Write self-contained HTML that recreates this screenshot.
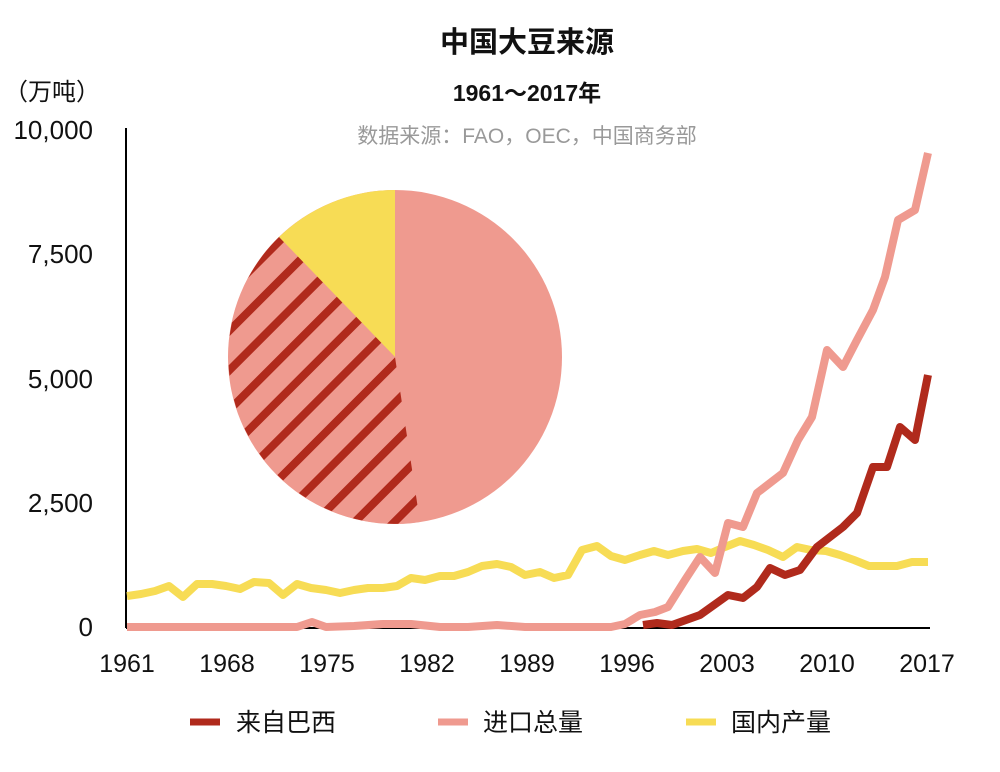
<!DOCTYPE html>
<html><head><meta charset="utf-8"><style>
body{margin:0;background:#fff}
text{font-family:"Liberation Sans","Noto Sans CJK SC",sans-serif}
</style></head><body>
<svg width="1000" height="767" viewBox="0 0 1000 767" xmlns="http://www.w3.org/2000/svg">
<defs>
<pattern id="h" patternUnits="userSpaceOnUse" width="28" height="28" patternTransform="rotate(-45)">
<rect width="28" height="28" fill="#ef9a8f"/><rect width="28" height="8" fill="#b02a1c"/>
</pattern>
</defs>
<text x="527" y="52" text-anchor="middle" font-size="29" font-weight="bold" fill="#111">中国大豆来源</text>
<text x="527" y="101" text-anchor="middle" font-size="23" font-weight="bold" fill="#111">1961～2017年</text>
<text x="527" y="143" text-anchor="middle" font-size="21" fill="#999">数据来源：FAO，OEC，中国商务部</text>
<text x="4" y="100" font-size="24" fill="#111">（万吨）</text>
<g font-size="26" fill="#111" text-anchor="end">
<text x="93" y="139">10,000</text>
<text x="93" y="263">7,500</text>
<text x="93" y="388">5,000</text>
<text x="93" y="512">2,500</text>
<text x="93" y="636">0</text>
</g>
<g font-size="25" fill="#111" text-anchor="middle">
<text x="127" y="672">1961</text><text x="227" y="672">1968</text><text x="327" y="672">1975</text>
<text x="427" y="672">1982</text><text x="527" y="672">1989</text><text x="627" y="672">1996</text>
<text x="727" y="672">2003</text><text x="827" y="672">2010</text><text x="927" y="672">2017</text>
</g>
<line x1="126" y1="128" x2="126" y2="628" stroke="#000" stroke-width="2"/>
<line x1="126" y1="628" x2="930" y2="628" stroke="#000" stroke-width="2"/>
<circle cx="395" cy="357" r="167" fill="#ef9a8f"/>
<path d="M395,357 L395,190 A167,167 0 0 0 279,237 Z" fill="#f7dc55"/>
<path d="M395,357 L279,237 A167,167 0 0 0 420,522 Z" fill="url(#h)"/>
<polyline fill="none" stroke="#f7dc55" stroke-width="8" stroke-linejoin="round" points="127,596 141,594 155,591 169,586 183,597 197,584 212,584 226,586 240,589 254,582 269,583 283,595 297,584 311,588 326,590 340,593 354,590 368,588 383,588 397,586 411,578 425,580 440,576 454,576 468,572 482,566 497,564 511,567 525,575 540,572 554,578 568,575 582,550 597,546 611,556 625,560 640,555 654,551 668,555 683,551 697,549 711,553 725,547 740,541 754,545 768,550 783,557 797,547 811,550 826,551 840,555 854,560 869,566 883,566 897,566 912,562 928,562"/>
<polyline fill="none" stroke="#ef9a8f" stroke-width="8" stroke-linejoin="round" points="127,627 297,627 312,622 326,627 354,626 383,624 411,624 440,627 468,627 497,625 525,627 611,627 625,624 640,615 655,612 668,607 685,580 700,557 715,573 728,523 743,527 757,493 783,473 798,440 812,417 827,350 843,367 857,340 873,310 885,277 898,220 915,210 928,153"/>
<polyline fill="none" stroke="#b02a1c" stroke-width="8" stroke-linejoin="round" points="643,625 657,623 672,625 700,615 728,595 743,598 757,587 770,568 785,575 800,570 817,547 843,527 857,513 873,467 887,467 900,427 915,440 928,375"/>
<line x1="190" y1="722" x2="220" y2="722" stroke="#b02a1c" stroke-width="7"/>
<text x="236" y="731" font-size="25" fill="#111">来自巴西</text>
<line x1="438" y1="722" x2="468" y2="722" stroke="#ef9a8f" stroke-width="7"/>
<text x="483" y="731" font-size="25" fill="#111">进口总量</text>
<line x1="686" y1="722" x2="716" y2="722" stroke="#f7dc55" stroke-width="7"/>
<text x="731" y="731" font-size="25" fill="#111">国内产量</text>
</svg>
</body></html>
